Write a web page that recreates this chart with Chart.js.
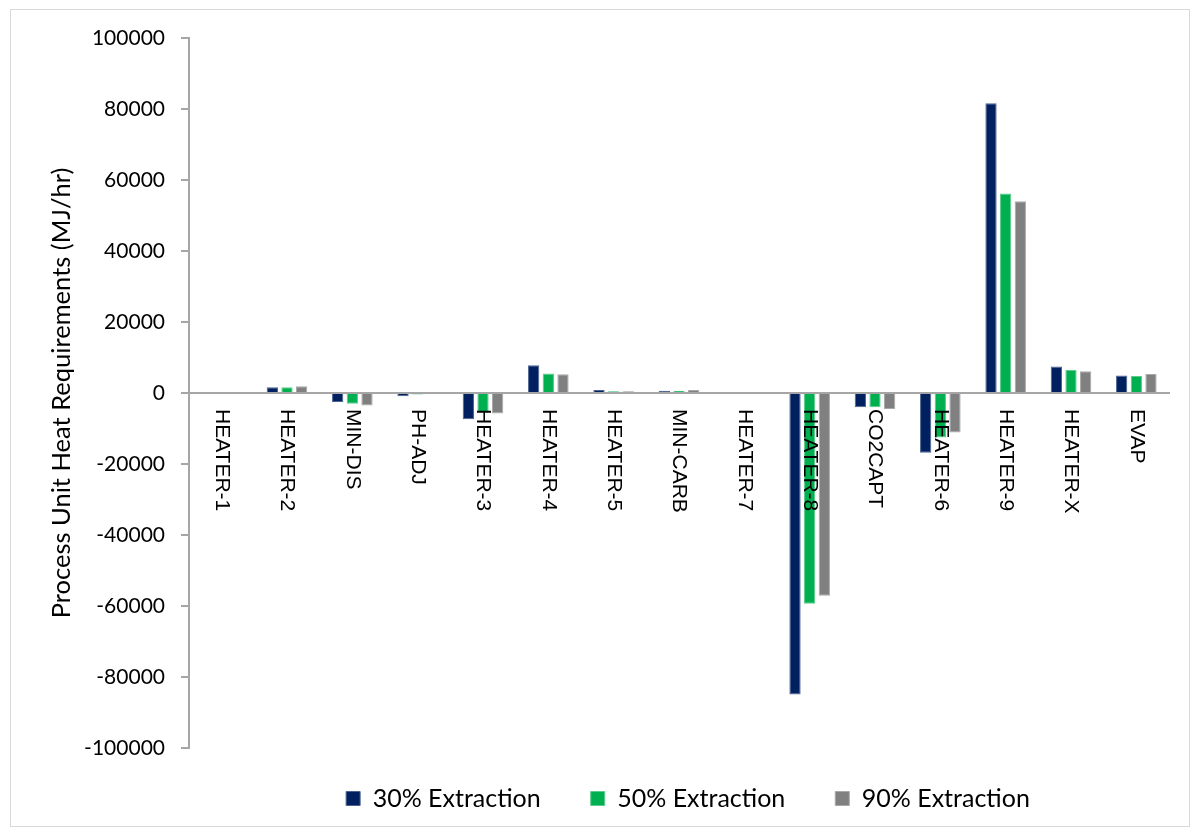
<!DOCTYPE html>
<html>
<head>
<meta charset="utf-8">
<script src="https://cdn.jsdelivr.net/npm/chart.js@4.4.1/dist/chart.umd.min.js"></script>
<style>
  html, body { margin: 0; padding: 0; background: #ffffff; }
  #wrap { width: 1198px; height: 836px; }
</style>
</head>
<body>
<div id="wrap"><canvas id="chart" width="1198" height="836"></canvas></div>
<script>
// Process units along the flowsheet
const categories = ['HEATER-1', 'HEATER-2', 'MIN-DIS', 'PH-ADJ', 'HEATER-3', 'HEATER-4', 'HEATER-5',
  'MIN-CARB', 'HEATER-7', 'HEATER-8', 'CO2CAPT', 'HEATER-6', 'HEATER-9', 'HEATER-X', 'EVAP'];

// Heat duty per unit (MJ/hr) for each extraction level
const extraction30 = [0, 1600, -2500, -900, -7400, 7800, 850, 600, 0, -84900, -4000, -16800, 81600, 7500, 4900];
const extraction50 = [0, 1600, -3000, -400, -5500, 5500, 500, 650, 0, -59400, -4000, -12500, 56200, 6500, 4800];
const extraction90 = [0, 1900, -3500, -300, -5800, 5300, 500, 850, 0, -57100, -4500, -11100, 54000, 6100, 5350];

const seriesNames = ['30% Extraction', '50% Extraction', '90% Extraction'];

// Value axis range
const yMin = -100000;
const yMax = 100000;
const yStep = 20000;

const axisGray = '#A6A6A6';

// Thin outer frame around the figure
const frame = {
  id: 'frame',
  beforeDraw(chart) {
    const ctx = chart.ctx;
    ctx.save();
    ctx.strokeStyle = '#D9D9D9';
    ctx.lineWidth = 1;
    ctx.strokeRect(10.5, 9.5, 1179, 817);
    ctx.restore();
  }
};

// Unit names written downward from the zero line
const categoryLabels = {
  id: 'categoryLabels',
  afterDatasetsDraw(chart) {
    const { ctx, scales: { x, y } } = chart;
    const y0 = y.getPixelForValue(0);
    ctx.save();
    ctx.font = '21px "Liberation Sans"';
    ctx.fillStyle = '#000000';
    ctx.textAlign = 'left';
    ctx.textBaseline = 'middle';
    categories.forEach((name, i) => {
      ctx.save();
      ctx.translate(x.getPixelForValue(i), y0 + 16);
      ctx.rotate(Math.PI / 2);
      ctx.fillText(name, 0, 0);
      ctx.restore();
    });
    ctx.restore();
  }
};

// Place the legend row under the plot area
const legendPlacement = {
  id: 'legendPlacement',
  afterLayout(chart) {
    const lg = chart.legend;
    if (!lg) return;
    const h = lg.bottom - lg.top;
    lg.top = 736;
    lg.bottom = 736 + h;
    lg.left += 9;
    lg.right += 9;
  }
};

new Chart(document.getElementById('chart'), {
  type: 'bar',
  data: {
    labels: categories,
    datasets: [
      { label: seriesNames[0], data: extraction30, backgroundColor: '#002060', borderColor: '#4C6390', borderWidth: 1 },
      { label: seriesNames[1], data: extraction50, backgroundColor: '#00B050', borderColor: '#5CCB8C', borderWidth: 1 },
      { label: seriesNames[2], data: extraction90, backgroundColor: '#808080', borderColor: '#A8A8A8', borderWidth: 1 }
    ]
  },
  options: {
    responsive: false,
    animation: false,
    devicePixelRatio: 1,
    categoryPercentage: 0.673,
    barPercentage: 0.77,
    layout: { padding: { top: 38, right: 29, bottom: 12, left: 0 } },
    plugins: {
      legend: {
        position: 'bottom',
        fullSize: false,
        maxHeight: 76,
        labels: {
          boxWidth: 14,
          boxHeight: 14,
          padding: 50,
          color: '#000000',
          font: { family: 'Lato', size: 25 }
        }
      },
      tooltip: { enabled: false }
    },
    scales: {
      x: {
        axis: 'x',
        type: 'category',
        position: { y: 0 },
        grid: { display: false },
        border: { color: axisGray, width: 2 },
        ticks: { display: false }
      },
      y: {
        min: yMin,
        max: yMax,
        afterFit(scale) { scale.width = 189; },
        grid: { drawOnChartArea: false, drawTicks: true, tickLength: 8, color: axisGray, lineWidth: 2 },
        border: { color: axisGray, width: 2 },
        ticks: {
          stepSize: yStep,
          padding: 16,
          color: '#000000',
          font: { family: 'Lato', size: 21 },
          callback: v => String(v)
        },
        title: {
          display: true,
          text: 'Process Unit Heat Requirements (MJ/hr)',
          color: '#000000',
          font: { family: 'Lato', size: 25.5 },
          padding: { top: 46, bottom: 0 }
        }
      }
    }
  },
  plugins: [frame, categoryLabels, legendPlacement]
});
</script>
</body>
</html>
